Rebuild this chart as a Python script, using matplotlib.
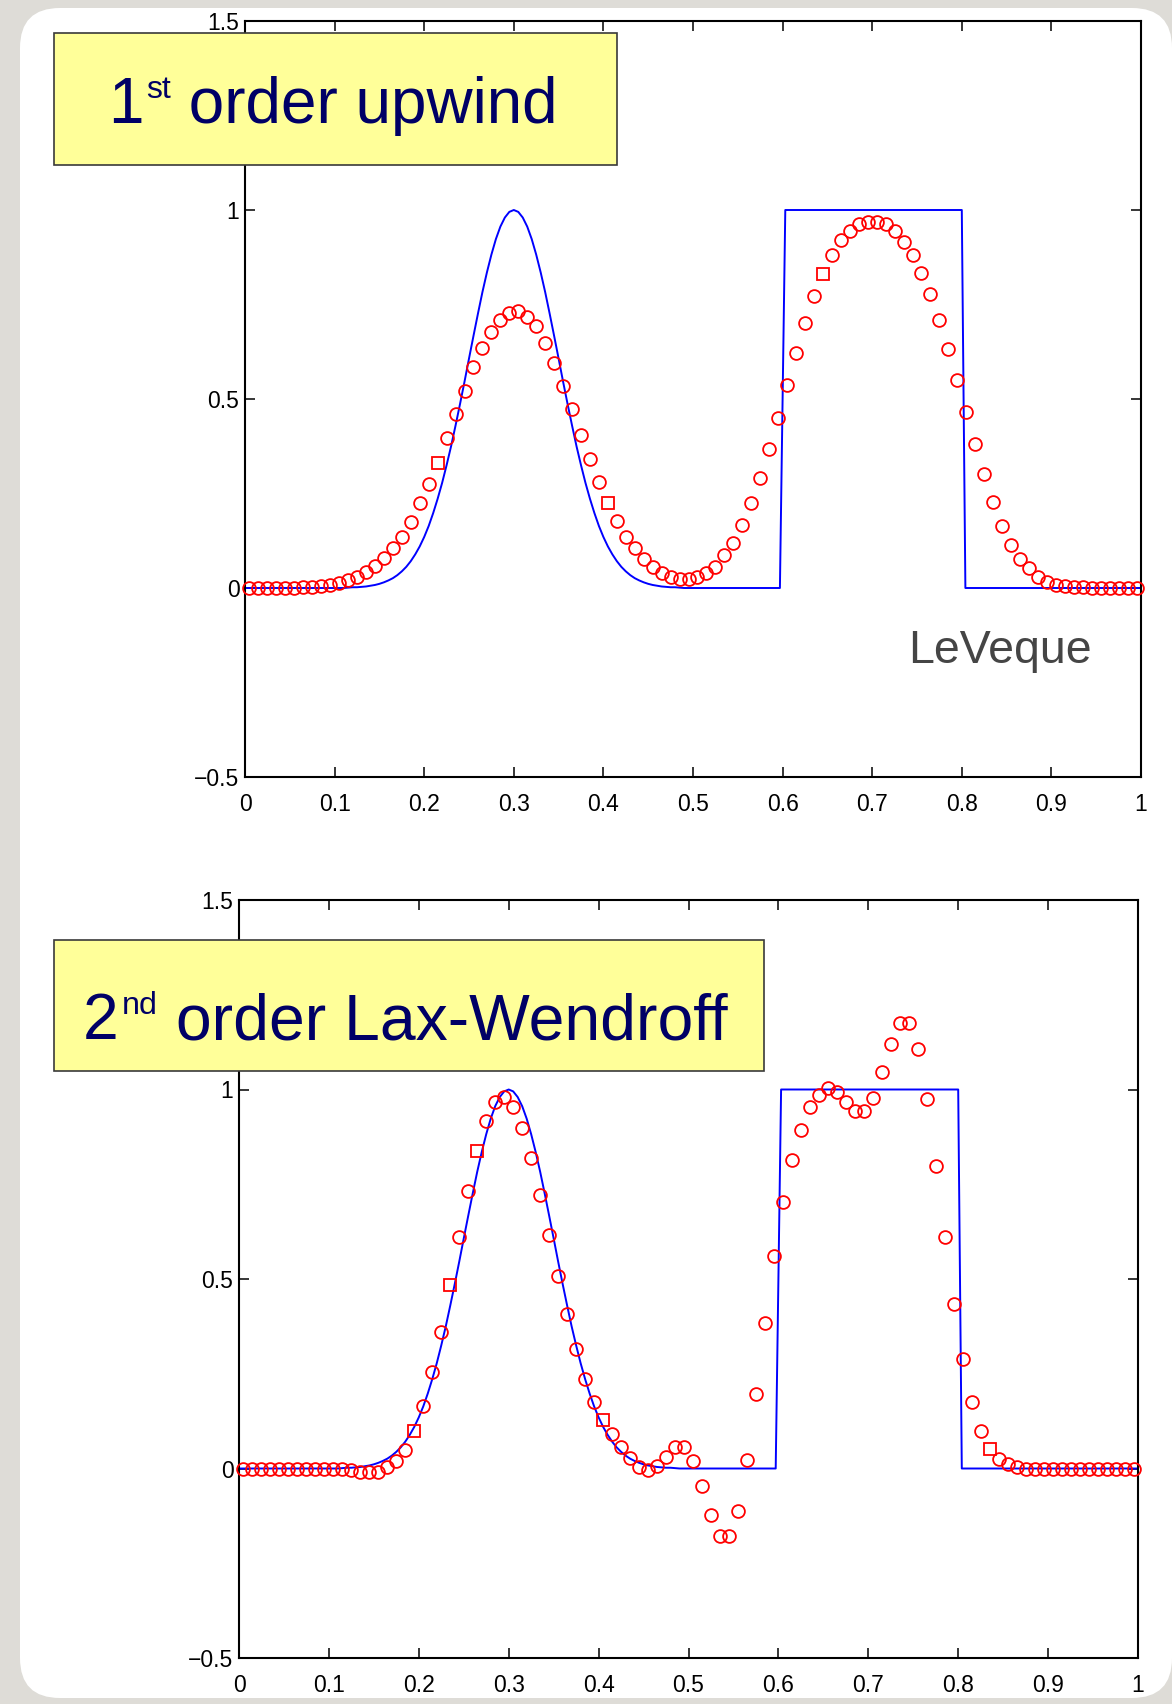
import matplotlib.pyplot as plt
import numpy as np
from matplotlib.patches import FancyBboxPatch, Rectangle

plt.rcParams['font.family'] = ['Liberation Sans', 'DejaVu Sans']

# cell centres of the 100-cell grid on [0, 1]
cell_x = 0.005 + 0.01 * np.arange(100)

# first order upwind solution
upwind = [
    0.000, 0.000, 0.000, 0.000, 0.000, 0.001, 0.002, 0.003, 0.005, 0.008,
    0.013, 0.020, 0.030, 0.042, 0.058, 0.079, 0.105, 0.136, 0.175, 0.224,
    0.275, 0.332, 0.396, 0.459, 0.522, 0.584, 0.636, 0.678, 0.709, 0.727,
    0.733, 0.718, 0.692, 0.649, 0.596, 0.535, 0.473, 0.404, 0.341, 0.280,
    0.226, 0.178, 0.136, 0.105, 0.078, 0.056, 0.041, 0.030, 0.024, 0.024,
    0.030, 0.039, 0.056, 0.086, 0.120, 0.167, 0.224, 0.292, 0.367, 0.451,
    0.536, 0.621, 0.700, 0.772, 0.832, 0.881, 0.921, 0.945, 0.963, 0.969,
    0.969, 0.962, 0.945, 0.916, 0.881, 0.834, 0.778, 0.709, 0.631, 0.550,
    0.465, 0.380, 0.301, 0.228, 0.164, 0.114, 0.078, 0.052, 0.030, 0.017,
    0.008, 0.005, 0.003, 0.002, 0.001, 0.000, 0.000, 0.000, 0.000, 0.000,
]

# second order Lax-Wendroff solution
lax_wendroff = [
    0.000, 0.000, 0.000, 0.000, 0.000, 0.000, 0.000, 0.000, 0.000, 0.000,
    0.000, -0.002, -0.005, -0.008, -0.010, -0.008, 0.004, 0.019, 0.050, 0.100,
    0.166, 0.254, 0.361, 0.483, 0.610, 0.731, 0.837, 0.918, 0.967, 0.980,
    0.955, 0.899, 0.820, 0.722, 0.617, 0.509, 0.408, 0.314, 0.237, 0.175,
    0.127, 0.091, 0.056, 0.028, 0.004, -0.005, 0.007, 0.030, 0.056, 0.056,
    0.021, -0.047, -0.124, -0.177, -0.179, -0.111, 0.023, 0.197, 0.385, 0.560,
    0.704, 0.813, 0.894, 0.953, 0.986, 1.004, 0.993, 0.968, 0.942, 0.942,
    0.977, 1.046, 1.120, 1.175, 1.175, 1.107, 0.975, 0.799, 0.610, 0.434,
    0.288, 0.175, 0.100, 0.052, 0.026, 0.012, 0.005, 0.000, 0.000, 0.000,
    0.000, 0.000, 0.000, 0.000, 0.000, 0.000, 0.000, 0.000, 0.000, 0.000,
]

# exact solution: gaussian hump (sampled every 0.005) plus square wave
exact_x = ([0.0, 0.11] + [round(0.12 + 0.005 * k, 3) for k in range(73)]
           + [0.49, 0.597, 0.603, 0.800, 0.804, 1.0])
exact_q = [
    0.0, 0.0,
    0.002, 0.002, 0.003, 0.004, 0.006, 0.008, 0.011, 0.015, 0.020, 0.026,
    0.034, 0.044, 0.056, 0.071, 0.089, 0.110, 0.135, 0.164, 0.198, 0.236,
    0.278, 0.325, 0.375, 0.430, 0.487, 0.546, 0.607, 0.667, 0.726, 0.783,
    0.835, 0.882, 0.923, 0.956, 0.980, 0.995,
    1.000,
    0.995, 0.980, 0.956, 0.923, 0.882, 0.835, 0.783, 0.726, 0.667, 0.607,
    0.546, 0.487, 0.430, 0.375, 0.325, 0.278, 0.236, 0.198, 0.164, 0.135,
    0.110, 0.089, 0.071, 0.056, 0.044, 0.034, 0.026, 0.020, 0.015, 0.011,
    0.008, 0.006, 0.004, 0.003, 0.002, 0.002,
    0.0, 0.0, 1.0, 1.0, 0.0, 0.0,
]

# markers that come out as squares in the low-res rendering
upwind_squares = [21, 40, 64]
lw_squares = [19, 23, 26, 40, 83]

x_ticks = [0, 0.1, 0.2, 0.3, 0.4, 0.5, 0.6, 0.7, 0.8, 0.9, 1]
x_tick_labels = ['0', '0.1', '0.2', '0.3', '0.4', '0.5', '0.6', '0.7', '0.8', '0.9', '1']
y_ticks = [-0.5, 0, 0.5, 1, 1.5]
y_tick_labels = ['\u22120.5', '0', '0.5', '1', '1.5']

W, H = 1172, 1704
navy = '#000066'

fig = plt.figure(figsize=(W / 100, H / 100), dpi=100)
fig.patch.set_facecolor('#dedcd7')

# white slide panel
bg = fig.add_axes([0, 0, 1, 1], zorder=-5)
bg.set_xlim(0, W)
bg.set_ylim(H, 0)
bg.axis('off')
bg.add_patch(FancyBboxPatch((20, 8), 1152, 1690, boxstyle='round,pad=0,rounding_size=40',
                            fc='white', ec='none'))


def draw_panel(rect, values, squares):
    ax = fig.add_axes(rect)
    ax.plot(exact_x, exact_q, color='#0000ff', lw=1.4, zorder=2)
    vals = np.array(values)
    sq = np.zeros(len(vals), dtype=bool)
    sq[squares] = True
    ax.plot(cell_x[~sq], vals[~sq], 'o', ms=9.2, mfc='none', mec='#ff0000', mew=1.3,
            clip_on=False, zorder=3)
    ax.plot(cell_x[sq], vals[sq], 's', ms=8, mfc='none', mec='#ff0000', mew=1.3,
            clip_on=False, zorder=3)
    ax.set_xlim(0, 1)
    ax.set_ylim(-0.5, 1.5)
    ax.set_xticks(x_ticks)
    ax.set_xticklabels(x_tick_labels)
    ax.set_yticks(y_ticks)
    ax.set_yticklabels(y_tick_labels)
    ax.tick_params(direction='in', length=7, width=1.1, top=True, right=True,
                   labelsize=16.5, colors='black')
    ax.tick_params(axis='x', pad=11.5)
    ax.tick_params(axis='y', pad=4)
    for s in ax.spines.values():
        s.set_linewidth(1.5)
    return ax


draw_panel([245 / W, 1 - 777 / H, 896 / W, 756 / H], upwind, upwind_squares)
draw_panel([239 / W, 1 - 1658 / H, 899 / W, 758 / H], lax_wendroff, lw_squares)

# yellow captions over the plots
fg = fig.add_axes([0, 0, 1, 1], zorder=10)
fg.set_xlim(0, W)
fg.set_ylim(H, 0)
fg.axis('off')
fg.patch.set_visible(False)


def caption(x0, y0, x1, y1, tx, base_y, head, sup, rest, size):
    fg.add_patch(Rectangle((x0, y0), x1 - x0, y1 - y0, fc='#ffff99', ec='#3a3a3a', lw=1.2))
    t1 = fg.text(tx, base_y, head, fontsize=size, color=navy, va='baseline', ha='left')
    t2 = fg.annotate(sup, xy=(1, 1), xycoords=t1, xytext=(3, 1), textcoords='offset pixels',
                     fontsize=size * 0.5, color=navy, va='top', ha='left')
    fg.annotate(rest, xy=(1, 0), xycoords=(t2, t1), fontsize=size, color=navy,
                va='bottom', ha='left')


caption(54, 33, 617, 165, 108, 123, '1', 'st', ' order upwind', 46)
caption(54, 940, 764, 1071, 83, 1039, '2', 'nd', ' order Lax-Wendroff', 46.3)

fg.text(908, 663, 'LeVeque', fontsize=33.5, color='#454545', va='baseline', ha='left')

fig.savefig('out.png', dpi=100)
